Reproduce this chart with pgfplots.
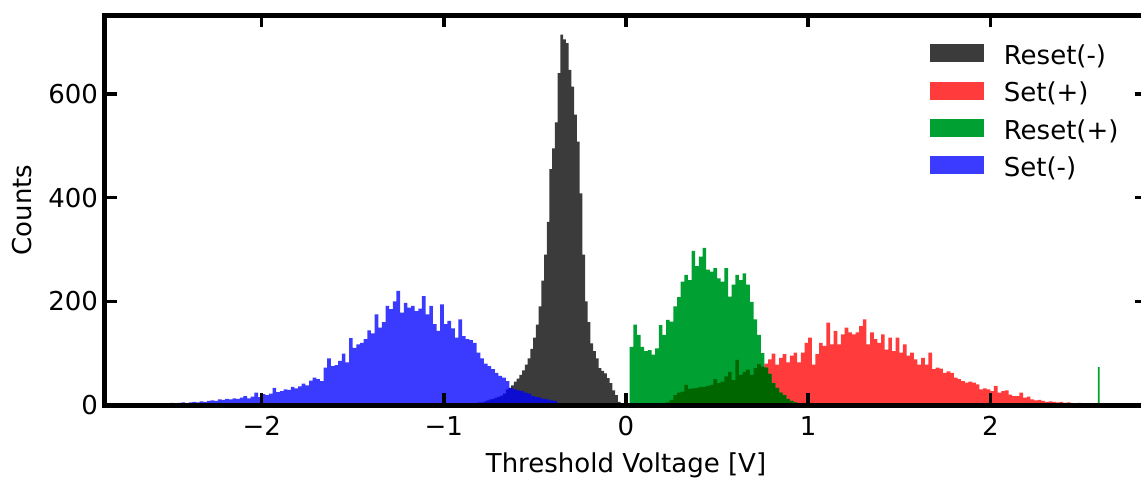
\documentclass[border=0pt]{standalone}
\usepackage{fontspec}
\setmainfont{DejaVu Sans}
\usepackage{pgfplots}
\usepackage{pgfplotstable}
\pgfplotsset{compat=1.18}
\definecolor{blackc}{RGB}{59,59,59}
\definecolor{redc}{RGB}{255,59,59}
\definecolor{greenc}{RGB}{0,160,50}
\definecolor{dkgreen}{RGB}{0,102,0}
\definecolor{bluec}{RGB}{0,0,255}

% Reset(-)
\pgfplotstableread{
x y
-0.900 1
-0.885 2
-0.870 2
-0.855 3
-0.840 3
-0.825 4
-0.810 5
-0.795 5
-0.780 7
-0.765 9
-0.750 11
-0.735 12
-0.720 14
-0.705 16
-0.690 18
-0.675 22
-0.660 30
-0.645 33
-0.630 38
-0.615 45
-0.600 51
-0.585 58
-0.570 67
-0.555 78
-0.540 90
-0.525 108
-0.510 130
-0.495 155
-0.480 190
-0.465 240
-0.450 290
-0.435 353
-0.420 455
-0.405 495
-0.390 545
-0.375 640
-0.360 714
-0.345 705
-0.330 698
-0.315 646
-0.300 614
-0.285 560
-0.270 508
-0.255 408
-0.240 290
-0.225 200
-0.210 160
-0.195 119
-0.180 104
-0.165 90
-0.150 71
-0.135 66
-0.120 61
-0.105 52
-0.090 42
-0.075 28
-0.060 19
-0.045 6
-0.030 0
}\resetminus

% Set(+)
\pgfplotstableread{
x y
0.22 5
0.24 10
0.26 19
0.28 24
0.30 26
0.32 39
0.34 31
0.36 32
0.38 33
0.40 35
0.42 35
0.44 37
0.46 39
0.48 50
0.50 42
0.52 45
0.54 55
0.56 64
0.58 48
0.60 87
0.62 58
0.64 64
0.66 68
0.68 58
0.70 71
0.72 79
0.74 74
0.76 80
0.78 88
0.80 99
0.82 78
0.84 91
0.86 98
0.88 82
0.90 95
0.92 101
0.94 82
0.96 101
0.98 120
1.00 130
1.02 78
1.04 98
1.06 120
1.08 114
1.10 159
1.12 117
1.14 143
1.16 117
1.18 136
1.20 149
1.22 140
1.24 136
1.26 140
1.28 152
1.30 165
1.32 117
1.34 140
1.36 127
1.38 120
1.40 136
1.42 107
1.44 130
1.46 104
1.48 130
1.50 101
1.52 117
1.54 95
1.56 101
1.58 88
1.60 78
1.62 91
1.64 78
1.66 101
1.68 69
1.70 72
1.72 70
1.74 62
1.76 65
1.78 62
1.80 53
1.82 50
1.84 46
1.86 43
1.88 45
1.90 43
1.92 40
1.94 30
1.96 32
1.98 30
2.00 27
2.02 37
2.04 24
2.06 27
2.08 28
2.10 20
2.12 17
2.14 17
2.16 24
2.18 14
2.20 16
2.22 11
2.24 9
2.26 10
2.28 8
2.30 6
2.32 7
2.34 6
2.36 5
2.38 6
2.40 4
2.42 5
2.44 3
2.46 2
2.48 4
2.50 0
}\setplus

% Reset(+)
\pgfplotstableread{
x y
0.02 112
0.04 155
0.06 135
0.08 112
0.10 104
0.12 106
0.14 97
0.16 109
0.18 154
0.20 135
0.22 164
0.24 161
0.26 190
0.28 208
0.30 238
0.32 251
0.34 241
0.36 297
0.38 268
0.40 286
0.42 303
0.44 261
0.46 257
0.48 264
0.50 244
0.52 238
0.54 264
0.56 209
0.58 232
0.60 251
0.62 241
0.64 254
0.66 232
0.68 199
0.70 165
0.72 135
0.74 100
0.76 72
0.78 60
0.80 42
0.82 33
0.84 24
0.86 19
0.88 12
0.90 8
0.92 5
0.94 3
0.96 0
}\resetplus

% overlap of Set(+) under Reset(+)
\pgfplotstableread{
x y
0.22 5
0.24 10
0.26 19
0.28 24
0.30 26
0.32 39
0.34 31
0.36 32
0.38 33
0.40 35
0.42 35
0.44 37
0.46 39
0.48 50
0.50 42
0.52 45
0.54 55
0.56 64
0.58 48
0.60 87
0.62 58
0.64 64
0.66 68
0.68 58
0.70 71
0.72 79
0.74 74
0.76 72
0.78 60
0.80 42
0.82 33
0.84 24
0.86 19
0.88 12
0.90 8
0.92 5
0.94 3
0.96 0
}\overlapgreen

% Reset(+) isolated bin
\pgfplotstableread{
x y
2.590 73
2.600 0
}\resetplusspike

% Set(-)
\pgfplotstableread{
x y
-2.52 3
-2.50 4
-2.48 2
-2.46 4
-2.44 5
-2.42 3
-2.40 5
-2.38 6
-2.36 5
-2.34 7
-2.32 6
-2.30 8
-2.28 9
-2.26 8
-2.24 11
-2.22 10
-2.20 12
-2.18 11
-2.16 13
-2.14 12
-2.12 14
-2.10 17
-2.08 13
-2.06 16
-2.04 24
-2.02 15
-2.00 21
-1.98 19
-1.96 22
-1.94 33
-1.92 25
-1.90 27
-1.88 30
-1.86 29
-1.84 35
-1.82 32
-1.80 36
-1.78 41
-1.76 38
-1.74 47
-1.72 53
-1.70 50
-1.68 46
-1.66 72
-1.64 90
-1.62 75
-1.60 77
-1.58 85
-1.56 99
-1.54 82
-1.52 129
-1.50 110
-1.48 117
-1.46 120
-1.44 127
-1.42 144
-1.40 138
-1.38 175
-1.36 149
-1.34 160
-1.32 191
-1.30 185
-1.28 200
-1.26 220
-1.24 178
-1.22 197
-1.20 188
-1.18 191
-1.16 181
-1.14 186
-1.12 210
-1.10 175
-1.08 191
-1.06 156
-1.04 143
-1.02 194
-1.00 156
-0.98 162
-0.96 148
-0.94 130
-0.92 165
-0.90 133
-0.88 127
-0.86 125
-0.84 120
-0.82 101
-0.80 90
-0.78 80
-0.76 75
-0.74 69
-0.72 62
-0.70 56
-0.68 53
-0.66 46
-0.64 33
-0.62 30
-0.60 28
-0.58 27
-0.56 24
-0.54 22
-0.52 17
-0.50 15
-0.48 14
-0.46 12
-0.44 11
-0.42 9
-0.40 8
-0.38 4
-0.36 0
}\setminus

\begin{document}
\begin{tikzpicture}
\begin{axis}[
  scale only axis,
  width=521pt, height=195pt,
  xmin=-2.86, xmax=2.86, ymin=0, ymax=752,
  axis on top,
  xtick={-2,-1,0,1,2}, xticklabels={−2,−1,0,1,2},
  ytick={0,200,400,600}, yticklabels={0,200,400,600},
  tick align=inside, xtick pos=both, ytick pos=both,
  major tick length=6pt,
  tick style={line width=1.75pt, black},
  axis line style={line width=2.5pt},
  ticklabel style={font=\fontsize{13}{15}\selectfont},
  xticklabel style={yshift=-2pt},
  label style={font=\fontsize{13}{15}\selectfont},
  xlabel={Threshold Voltage [V]},
  ylabel={Counts},
  xlabel style={at={(axis description cs:0.5,0)}, anchor=base, yshift=-33.5pt},
  ylabel style={at={(axis description cs:-0.0701,0.5)}, anchor=base},
  legend style={at={(axis description cs:0.786,0.936)}, anchor=north west,
    draw=none, fill=none, font=\fontsize{13}{15}\selectfont,
    row sep=6.9pt, nodes={inner sep=0pt},
    /tikz/every odd column/.append style={column sep=9.7pt}},
  legend cell align=left,
  legend image code/.code={\fill[#1] (0pt,-3pt) rectangle (27pt,6pt);},
]
\addplot[const plot, draw=none, fill=blackc] table[x=x,y=y]{\resetminus} \closedcycle;
\addlegendentry{Reset(-)}
\addplot[const plot, draw=none, fill=redc] table[x=x,y=y]{\setplus} \closedcycle;
\addlegendentry{Set(+)}
\addplot[const plot, draw=none, fill=greenc] table[x=x,y=y]{\resetplus} \closedcycle;
\addlegendentry{Reset(+)}
\addplot[const plot, draw=none, fill=dkgreen, forget plot] table[x=x,y=y]{\overlapgreen} \closedcycle;
\addplot[const plot, draw=none, fill=greenc, forget plot] table[x=x,y=y]{\resetplusspike} \closedcycle;
\addplot[const plot, draw=none, fill=bluec, fill opacity=0.77] table[x=x,y=y]{\setminus} \closedcycle;
\addlegendentry{Set(-)}
\coordinate (bl) at (rel axis cs:0,0);
\end{axis}
\pgfresetboundingbox
\path[use as bounding box] (bl) ++(-52.5pt,-37pt) rectangle ++(570.5pt,239.5pt);
\end{tikzpicture}
\end{document}
